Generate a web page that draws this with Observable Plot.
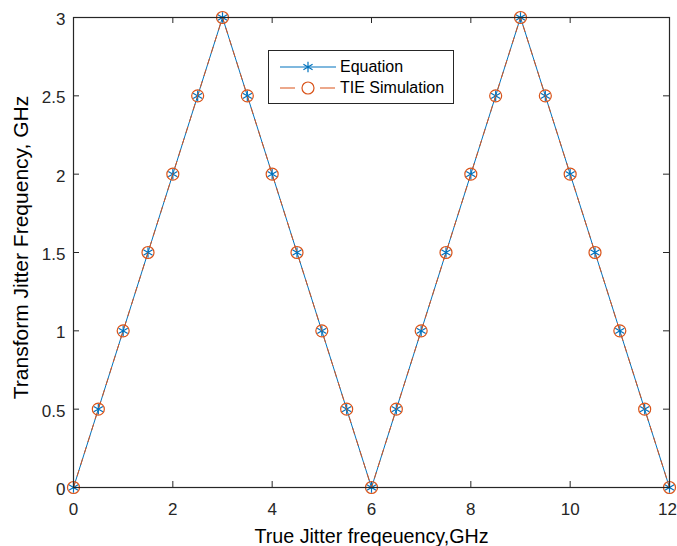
<!DOCTYPE html>
<html>
<head>
<meta charset="utf-8">
<script src="https://cdn.jsdelivr.net/npm/d3@7"></script>
<script src="https://cdn.jsdelivr.net/npm/@observablehq/plot@0.6"></script>
<style>
  body { margin: 0; background: #fff; }
  #wrap { position: relative; width: 677px; height: 546px; font-family: "Liberation Sans", Arial, sans-serif; }
  #legend { position: absolute; left: 268px; top: 50px; width: 186px; height: 54px; border: 1px solid #262626; background: #fff; box-sizing: border-box; }
  #legend .row { position: absolute; left: 0; height: 22px; display: flex; align-items: center; }
  #legend .lbl { font-size: 16px; color: #000; margin-left: 1px; white-space: nowrap; }
</style>
</head>
<body>
<div id="wrap"></div>
<script>
const trueFreq = [0,0.5,1,1.5,2,2.5,3,3.5,4,4.5,5,5.5,6,6.5,7,7.5,8,8.5,9,9.5,10,10.5,11,11.5,12];
const equation = [0,0.5,1,1.5,2,2.5,3,2.5,2,1.5,1,0.5,0,0.5,1,1.5,2,2.5,3,2.5,2,1.5,1,0.5,0];
const tieSim   = [0,0.5,1,1.5,2,2.5,3,2.5,2,1.5,1,0.5,0,0.5,1,1.5,2,2.5,3,2.5,2,1.5,1,0.5,0];
const xTicks = [0,2,4,6,8,10,12];
const yTicks = [0,0.5,1,1.5,2,2.5,3];
const seriesNames = ["Equation", "TIE Simulation"];
const colors = ["#0072BD", "#D95319"];
const xLabel = "True Jitter freqeuency,GHz";
const yLabel = "Transform Jitter Frequency, GHz";

const eqData = trueFreq.map((x, i) => ({x, y: equation[i]}));
const tieData = trueFreq.map((x, i) => ({x, y: tieSim[i]}));

const W = 677, H = 546;
const mL = 73, mR = 8, mT = 17, mB = 59;
const iw = W - mL - mR, ih = H - mT - mB;
const axisColor = "#262626";
const xMax = xTicks[xTicks.length - 1];

const chart = Plot.plot({
  width: W, height: H,
  marginLeft: mL, marginRight: mR, marginTop: mT, marginBottom: mB,
  style: {fontFamily: "'Liberation Sans', Arial, sans-serif", fontSize: "17px", color: axisColor, background: "#fff"},
  x: {domain: [0, 12]},
  y: {domain: [0, 3]},
  marks: [
    Plot.axisX(xTicks.filter(d => d !== xMax), {tickSize: 0, tickPadding: 15, label: null, fontSize: 17, fill: axisColor}),
    Plot.axisX([xMax], {tickSize: 0, tickPadding: 15, label: null, fontSize: 17, fill: axisColor, dx: -2}),
    Plot.axisY(yTicks, {tickSize: 0, tickPadding: 8, label: null, fontSize: 17, fill: axisColor, dy: 2, tickFormat: d => String(d)}),
    Plot.tickX(xTicks, {x: d => d, insetTop: ih - 6, stroke: axisColor}),
    Plot.tickX(xTicks, {x: d => d, insetBottom: ih - 6, stroke: axisColor}),
    Plot.tickY(yTicks, {y: d => d, insetRight: iw - 6, stroke: axisColor}),
    Plot.tickY(yTicks, {y: d => d, insetLeft: iw - 6, stroke: axisColor}),
    Plot.line(eqData, {x: "x", y: "y", stroke: colors[0], strokeWidth: 1}),
    Plot.dot(eqData, {x: "x", y: "y", symbol: "asterisk", r: 5, stroke: colors[0], strokeWidth: 1.2}),
    Plot.line(tieData, {x: "x", y: "y", stroke: colors[1], strokeWidth: 1, strokeDasharray: "6,6"}),
    Plot.dot(tieData, {x: "x", y: "y", symbol: "circle", r: 6, stroke: colors[1], fill: "none", strokeWidth: 1.2}),
    Plot.frame({stroke: axisColor, strokeWidth: 1.2}),
    Plot.text([xLabel], {frameAnchor: "bottom", textAnchor: "middle", lineAnchor: "middle", dy: 49, fontSize: 19.7, fill: "#000"}),
    Plot.text([yLabel], {frameAnchor: "left", textAnchor: "middle", lineAnchor: "middle", rotate: -90, dx: -52, dy: -5, fontSize: 21, fill: "#000"})
  ]
});

const wrap = document.getElementById("wrap");
wrap.appendChild(chart);

// Legend
const legend = document.createElement("div");
legend.id = "legend";
const rows = [
  {name: seriesNames[0], color: colors[0], dash: null, sym: "asterisk"},
  {name: seriesNames[1], color: colors[1], dash: "15,25", sym: "circle"}
];
rows.forEach((r, i) => {
  const row = document.createElement("div");
  row.className = "row";
  row.style.top = (5 + i * 21) + "px";
  const ns = "http://www.w3.org/2000/svg";
  const s = document.createElementNS(ns, "svg");
  s.setAttribute("width", "70"); s.setAttribute("height", "22");
  const ln = document.createElementNS(ns, "line");
  ln.setAttribute("x1", "11"); ln.setAttribute("x2", "67");
  ln.setAttribute("y1", "11"); ln.setAttribute("y2", "11");
  ln.setAttribute("stroke", r.color); ln.setAttribute("stroke-width", "1.2");
  if (r.dash) ln.setAttribute("stroke-dasharray", r.dash);
  s.appendChild(ln);
  if (r.sym === "circle") {
    const c = document.createElementNS(ns, "circle");
    c.setAttribute("cx", "39"); c.setAttribute("cy", "11"); c.setAttribute("r", "6");
    c.setAttribute("fill", "none"); c.setAttribute("stroke", r.color); c.setAttribute("stroke-width", "1.2");
    s.appendChild(c);
  } else {
    const p = d3.symbol(d3.symbolAsterisk, Math.PI * 5 * 5)();
    const path = document.createElementNS(ns, "path");
    path.setAttribute("d", p); path.setAttribute("transform", "translate(39,11)");
    path.setAttribute("stroke", r.color); path.setAttribute("fill", "none"); path.setAttribute("stroke-width", "1.2");
    s.appendChild(path);
  }
  row.appendChild(s);
  const t = document.createElement("span");
  t.className = "lbl"; t.textContent = r.name;
  row.appendChild(t);
  legend.appendChild(row);
});
wrap.appendChild(legend);
</script>
</body>
</html>
